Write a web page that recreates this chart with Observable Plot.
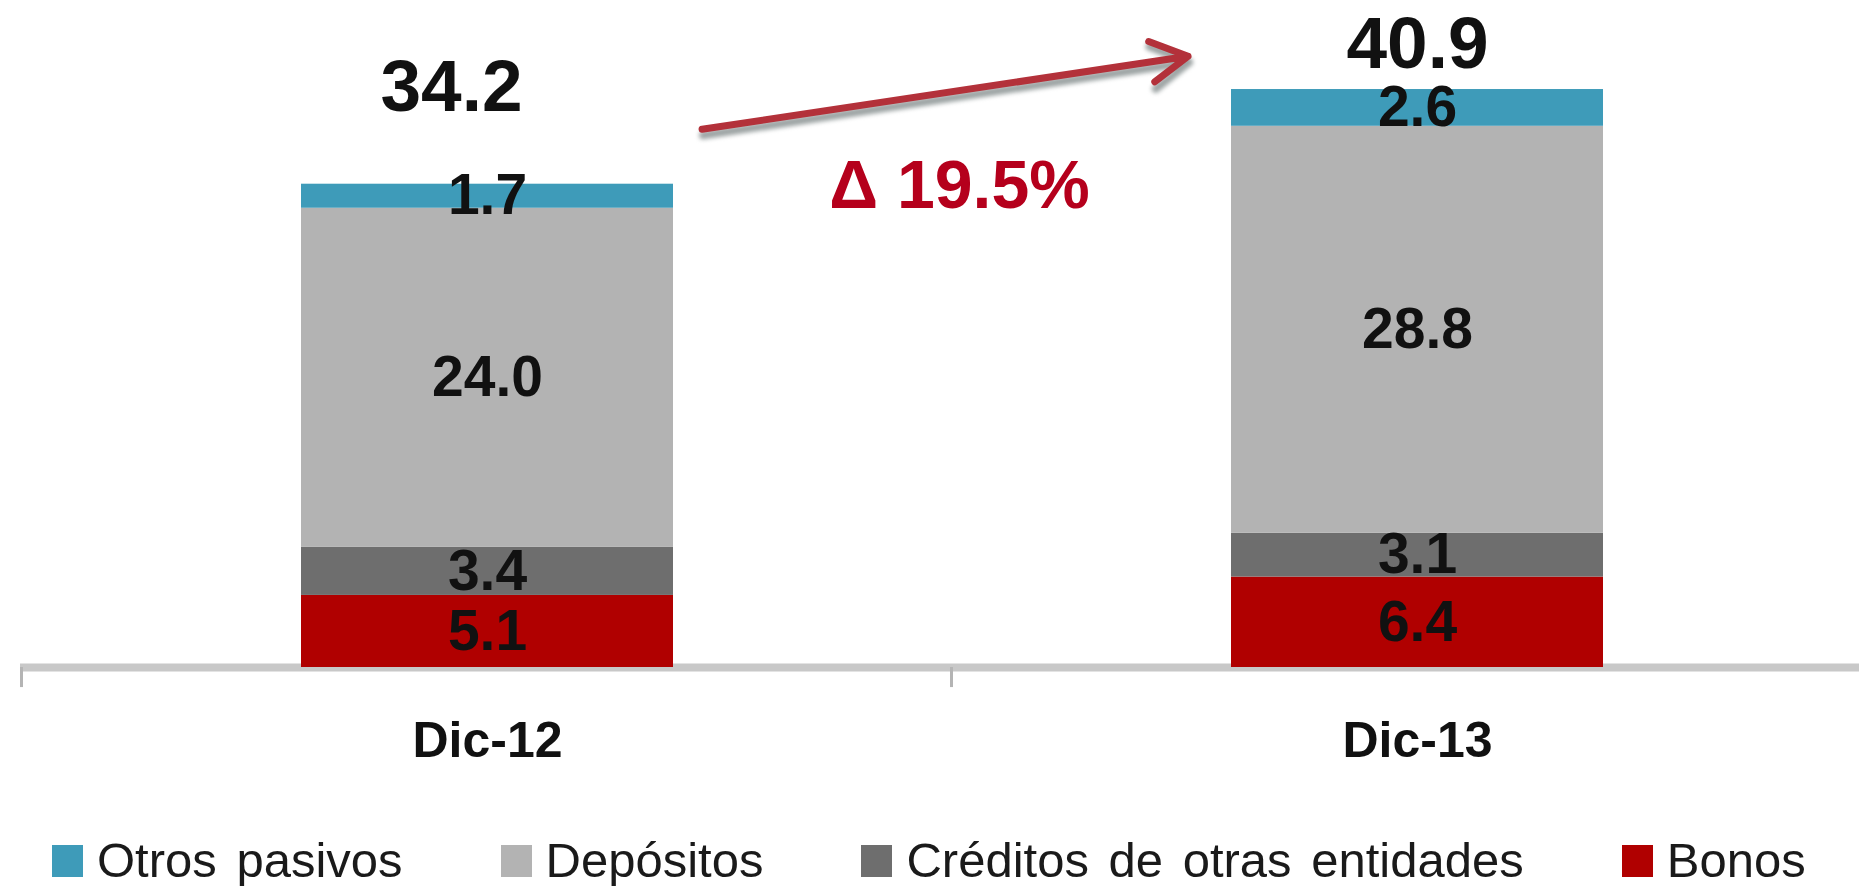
<!DOCTYPE html>
<html>
<head>
<meta charset="utf-8">
<script src="https://cdn.jsdelivr.net/npm/d3@7"></script>
<script src="https://cdn.jsdelivr.net/npm/@observablehq/plot@0.6"></script>
<style>
  html, body { margin: 0; padding: 0; background: #fff; }
  body { width: 1859px; height: 886px; position: relative; overflow: hidden; font-family: "Liberation Sans", Arial, sans-serif; }
  #chart { position: absolute; left: 0; top: 0; }
  #legend { position: absolute; left: 52px; top: 836px; display: flex; align-items: center; gap: 98px; font-size: 49px; line-height: 49px; color: #1a1a1a; white-space: nowrap; word-spacing: 6px; }
  .item { display: flex; align-items: center; gap: 14px; }
  .sw { width: 31px; height: 32px; display: inline-block; }
  .lbl { display: block; height: 49px; line-height: 49px; }
</style>
</head>
<body>
<div id="chart"></div>
<div id="legend"></div>
<script>
// ---- data ----
const periods = ["Dic-12", "Dic-13"];
const seriesNames = ["Bonos", "Créditos de otras entidades", "Depósitos", "Otros pasivos"]; // bottom -> top
const bonos = [5.1, 6.4];
const creditos = [3.4, 3.1];
const depositos = [24.0, 28.8];
const otrosPasivos = [1.7, 2.6];
const totals = [34.2, 40.9];
const growthLabel = "Δ 19.5%";
const legendOrder = ["Otros pasivos", "Depósitos", "Créditos de otras entidades", "Bonos"];
const seriesColors = ["#b00000", "#6e6e6e", "#b3b3b3", "#3e9bb9"];

// ---- build table ----
const seriesValues = [bonos, creditos, depositos, otrosPasivos];
const rows = [];
periods.forEach((p, i) => {
  seriesNames.forEach((s, j) => rows.push({period: p, series: s, value: seriesValues[j][i]}));
});
const totalRows = periods.map((p, i) => ({period: p, total: totals[i]}));

const FONT = "Liberation Sans, Arial, sans-serif";

const chart = Plot.plot({
  width: 1859,
  height: 836,
  marginTop: 0, marginBottom: 0, marginLeft: 20, marginRight: 0,
  style: {fontFamily: FONT, background: "#fff", overflow: "visible"},
  x: {domain: periods, range: [22, 1882], paddingInner: 0.6, paddingOuter: 0.3, axis: null},
  y: {domain: [0, 47.2], range: [667, 0], axis: null},
  color: {domain: seriesNames, range: seriesColors},
  marks: [
    // arrow shadow
    Plot.arrow([{}], {
      x1: () => periods[0], y1: () => 35.8, x2: () => periods[1], y2: () => 45.7,
      insetStart: 217, insetEnd: 232, dx: 1, dy: 6,
      stroke: "#8c9494", strokeOpacity: 0.85, strokeWidth: 8, headLength: 8, headAngle: 60
    }),
    // axis line
    Plot.ruleY([0], {stroke: "#c8c8c8", strokeWidth: 8}),
    // category boundary ticks
    Plot.ruleX(periods, {x: d => d, dx: -466, y1: 0, y2: -1.42, stroke: "#b4b4b4", strokeWidth: 3}),
    // stacked bars
    Plot.barY(rows, Plot.stackY({x: "period", y: "value", fill: "series", inset: 0, order: null})),
    // segment labels
    Plot.text(rows, Plot.stackY({
      x: "period", y: "value", text: d => d.value.toFixed(1), order: null,
      fontSize: 57, fontWeight: "bold", fill: "#111", fontFamily: FONT
    })),
    // totals
    Plot.text([totalRows[0]], {x: "period", y: "total", text: d => d.total.toFixed(1), dx: -36, dy: -97,
      fontSize: 73, fontWeight: "bold", fill: "#111", fontFamily: FONT}),
    Plot.text([totalRows[1]], {x: "period", y: "total", text: d => d.total.toFixed(1), dy: -45,
      fontSize: 73, fontWeight: "bold", fill: "#111", fontFamily: FONT}),
    // x labels
    Plot.text(periods, {x: d => d, y: () => 0, text: d => d, dy: 73,
      fontSize: 50, fontWeight: "bold", fill: "#111", fontFamily: FONT}),
    // growth arrow
    Plot.arrow([{}], {
      x1: () => periods[0], y1: () => 35.8, x2: () => periods[1], y2: () => 45.7,
      insetStart: 217, insetEnd: 232,
      stroke: "#b3313a", strokeWidth: 7, headLength: 9, headAngle: 58
    }),
    // growth label
    Plot.text([growthLabel], {x: () => periods[1], y: () => totals[0], text: d => d, dx: -458, dy: 2,
      fontSize: 68, fontWeight: "bold", fill: "#b5001c", fontFamily: FONT})
  ]
});
document.getElementById("chart").appendChild(chart);
// soften the arrow shadow
const arrows = chart.querySelectorAll('g[aria-label="arrow"]');
if (arrows.length) arrows[0].style.filter = "blur(2px)";

// legend
const legend = d3.select("#legend");
legendOrder.forEach(name => {
  const it = legend.append("div").attr("class", "item");
  it.append("span").attr("class", "sw").style("background", seriesColors[seriesNames.indexOf(name)]);
  it.append("span").attr("class", "lbl").text(name);
});
</script>
</body>
</html>
